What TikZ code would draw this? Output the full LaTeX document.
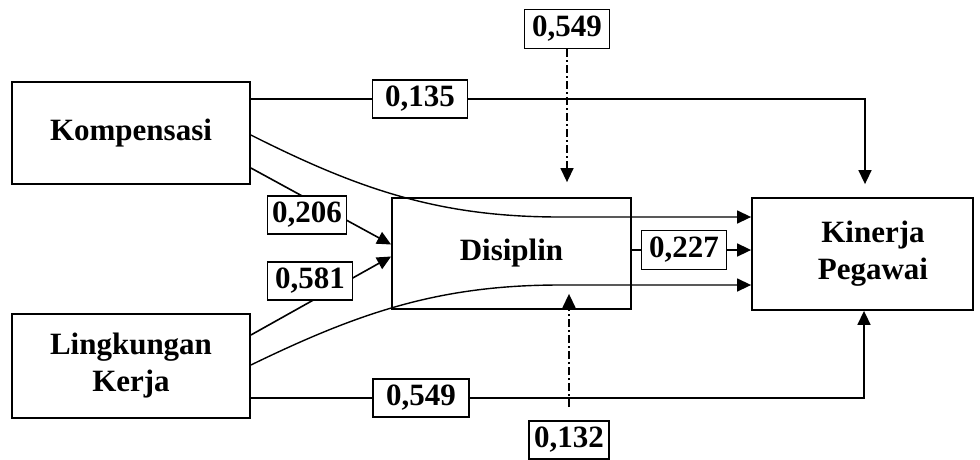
\documentclass[tikz,border=0pt]{standalone}
\usepackage{fontspec}
\setmainfont{Liberation Serif}
\usetikzlibrary{arrows.meta,backgrounds}
\begin{document}
\begin{tikzpicture}[x=1pt,y=-1pt,
  box/.style={draw,line width=1.8pt,rectangle,inner sep=0pt,font=\fontsize{31}{37}\selectfont\bfseries,align=center},
  lbl/.style={draw,line width=1.6pt,fill=white,rectangle,inner sep=0pt,minimum height=38pt,font=\fontsize{31}{37}\selectfont\bfseries},
  conn/.style={line width=1.6pt},
  arr/.style={conn,-{Triangle[length=14pt,width=13pt]}},
  dashdot/.style={arr,line width=1.4pt,dash pattern=on 8pt off 3pt on 2pt off 3pt}
]
\useasboundingbox (0,0) rectangle (980,459);
% main boxes
\node[box,minimum width=238pt,minimum height=102pt] (komp) at (131,133) {Kompensasi};
\node[box,minimum width=238pt,minimum height=104pt] (ling) at (131,366) {Lingkungan\\Kerja};
\node[box,minimum width=239pt,minimum height=111pt] (dis) at (511.5,253.5) {Disiplin};
\node[box,minimum width=221pt,minimum height=112pt] (kin) at (862.5,254) {};
\node[font=\fontsize{31}{37}\selectfont\bfseries,align=center,inner sep=0pt] (kintext) at (873,254) {Kinerja\\Pegawai};
% labels
\node[lbl,minimum width=95pt] (l135) at (420,99) {0,135};
\node[lbl,minimum width=96pt] (l549b) at (421,398) {0,549};
\node[lbl,minimum width=79pt] (l206) at (307,215) {0,206};
\node[lbl,minimum width=85pt] (l581) at (310,281) {0,581};
\node[lbl,minimum width=85pt,minimum height=39pt] (l549t) at (567,29) {0,549};
\node[lbl,minimum width=80pt] (l132) at (569,440) {0,132};
\node[lbl,minimum width=85pt,minimum height=39pt] (l227) at (684,250) {0,227};
\begin{scope}[on background layer]
  \draw[arr,shorten >=13pt] (komp.east |- l135) -| ([xshift=2.5pt]kin.north);
  \draw[arr] (ling.east |- l549b) -| ([xshift=1.5pt]kin.south);
  \draw[arr,line width=1.4pt] ([yshift=-2pt]komp.east) .. controls (360,190) and (440,217) .. (560,217) -- ([yshift=37pt]kin.west);
  \draw[arr,line width=1.4pt] ([yshift=1pt]ling.east) .. controls (360,312) and (440,285) .. (560,285) -- ([yshift=-31pt]kin.west);
  \draw[arr] ([yshift=-35pt]komp.east) -- ([yshift=9pt]dis.west);
  \draw[arr] ([yshift=31pt]ling.east) -- ([yshift=-3pt]dis.west);
  \draw[arr] (dis.east |- l227) -- (kin.west |- l227);
  \draw[dashdot,shorten >=15pt] (l549t.south) -- (l549t.south |- dis.north);
  \draw[dashdot,shorten <=13pt] (l132.north) -- ([yshift=16pt]l132.north |- dis.south);
\end{scope}
\end{tikzpicture}
\end{document}
